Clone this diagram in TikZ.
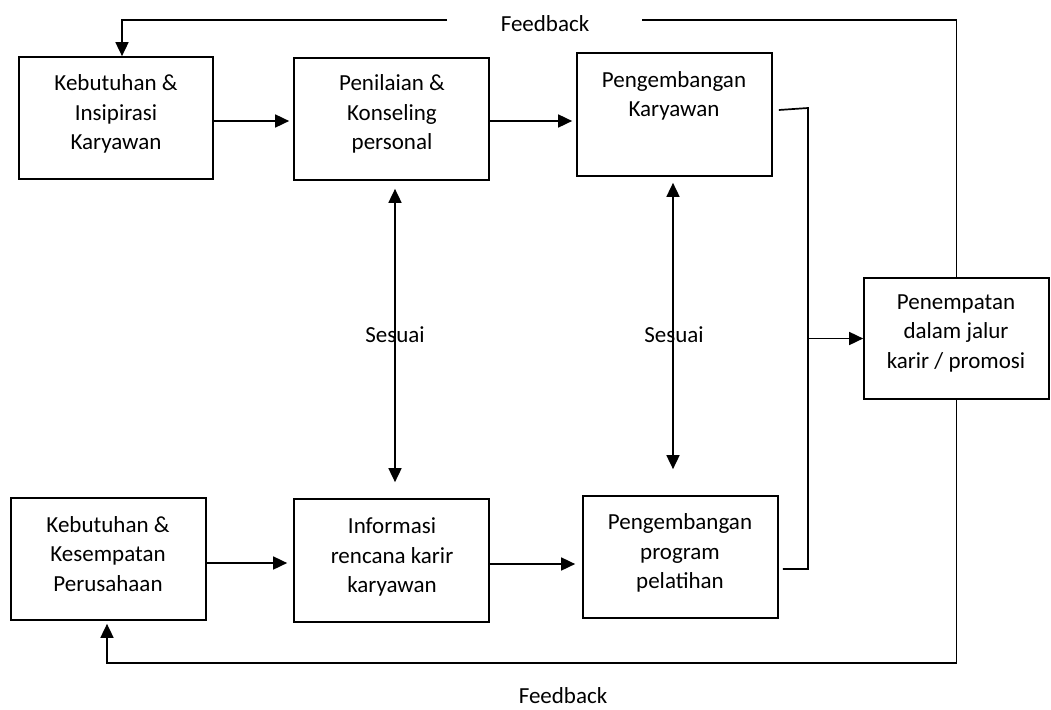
\documentclass[tikz,border=0pt]{standalone}
\usepackage{fontspec}
\setmainfont{Carlito}
\usetikzlibrary{arrows.meta}
\begin{document}
\begin{tikzpicture}[x=1pt,y=-1pt,
  box/.style={draw, line width=1.7pt, inner sep=0pt},
  txt/.style={align=center, font=\fontsize{23}{29.5}\selectfont, inner sep=0pt},
  con/.style={line width=1.7pt},
  arr/.style={con, -{Triangle[length=14pt,width=13pt]}},
  darr/.style={con, {Triangle[length=14pt,width=13pt]}-{Triangle[length=14pt,width=13pt]}}]
\useasboundingbox (0,0) rectangle (1051,709);

% boxes
\node[box, minimum width=194pt, minimum height=122pt] (a1) at (116,118) {};
\node[box, minimum width=195pt, minimum height=122pt] (a2) at (391.5,119) {};
\node[box, minimum width=195pt, minimum height=123pt] (a3) at (674.5,114.5) {};
\node[box, minimum width=195pt, minimum height=122pt] (b1) at (108.5,559) {};
\node[box, minimum width=195pt, minimum height=123pt] (b2) at (391.5,560.5) {};
\node[box, minimum width=195pt, minimum height=122pt] (b3) at (680.5,557) {};
\node[box, minimum width=185pt, minimum height=121pt] (e) at (956.5,338.5) {};

% texts
\node[txt] (ta1) at (116,114) {Kebutuhan \&\\Insipirasi\\Karyawan};
\node[txt] (ta2) at (392,114) {Penilaian \&\\Konseling\\personal};
\node[txt] (ta3) at (674,96) {Pengembangan\\Karyawan};
\node[txt] (tb1) at (108,554) {Kebutuhan \&\\Kesempatan\\Perusahaan};
\node[txt] (tb2) at (392,557) {Informasi\\rencana karir\\karyawan};
\node[txt] (tb3) at (680,553) {Pengembangan\\program\\pelatihan};
\node[txt] (te) at (956,333) {Penempatan\\dalam jalur\\karir / promosi};
\node[txt, anchor=base] (s1) at (395,342) {Sesuai};
\node[txt, anchor=base] (s2) at (674,342) {Sesuai};
\node[txt, anchor=base] (f1) at (545,32) {Feedback};
\node[txt, anchor=base] (f2) at (563,703) {Feedback};

% helper coordinates
\coordinate (r1) at (0,121);
\coordinate (r2) at (0,563);
\coordinate (r3) at (0,564);
\coordinate (v1) at (395,0);
\coordinate (v2) at (673,0);
\coordinate (bk) at (808,0);
\coordinate (bt) at (808,108);
\coordinate (bb) at (808,569);
\coordinate (gl) at (447,20);
\coordinate (gr) at (642,20);
\coordinate (fl) at (122,0);
\coordinate (fb) at (107,663);

% horizontal arrows
\draw[arr, shorten >=4pt] (a1.east |- r1) -- (a2.west |- r1);
\draw[arr, shorten >=4pt] (a2.east |- r1) -- (a3.west |- r1);
\draw[arr, shorten >=6pt] (b1.east |- r2) -- (b2.west |- r2);
\draw[arr, shorten >=7pt] (b2.east |- r3) -- (b3.west |- r3);

% vertical double arrows
\draw[darr, shorten <=8pt, shorten >=16pt] (a2.south -| v1) -- (b2.north -| v1);
\draw[darr, shorten <=6pt, shorten >=26pt] (a3.south -| v2) -- (b3.north -| v2);

% bracket
\draw[con] ([xshift=6pt,yshift=4.5pt]a3.east) -- (bt) -- (bb) -- ([xshift=4pt,yshift=-12pt]b3.east);
\draw[arr] (e.west -| bk) -- (e.west);

% feedback loops
\draw[con] (e.north) |- (gr);
\draw[arr] (gl) -| (fl |- a1.north);
\draw[arr, shorten >=3pt] (e.south) |- (fb) -- (fb |- b1.south);
\end{tikzpicture}
\end{document}
